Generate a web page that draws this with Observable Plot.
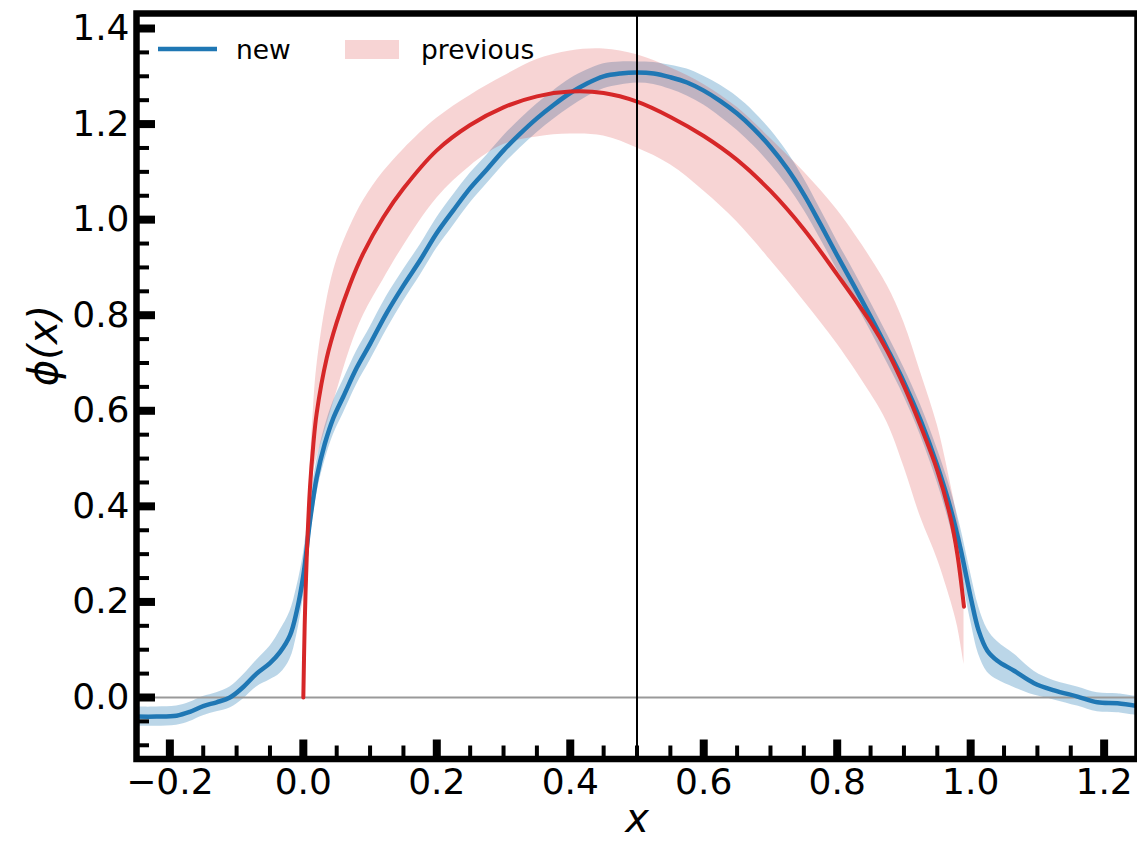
<!DOCTYPE html>
<html>
<head>
<meta charset="utf-8">
<script src="https://cdn.jsdelivr.net/npm/d3@7"></script>
<script src="https://cdn.jsdelivr.net/npm/@observablehq/plot@0.6"></script>
<style>
  html, body { margin: 0; padding: 0; background: #fff; }
  #wrap { position: relative; width: 1137px; height: 843px; overflow: hidden; font-family: "DejaVu Sans", sans-serif; }
  #wrap > svg.legend { position: absolute; left: 0; top: 0; }
</style>
</head>
<body>
<div id="wrap"></div>
<script>
// ---- data: "new" (blue) ----
const newX = [-0.25,-0.22,-0.19,-0.17,-0.15,-0.13,-0.11,-0.09,-0.07,-0.05,-0.035,-0.02,-0.01,0.0,0.01,0.02,0.032,0.045,0.06,0.08,0.10,0.125,0.15,0.175,0.20,0.225,0.25,0.275,0.30,0.325,0.35,0.375,0.40,0.425,0.45,0.475,0.50,0.525,0.55,0.575,0.60,0.625,0.65,0.675,0.70,0.725,0.75,0.775,0.80,0.825,0.85,0.875,0.90,0.925,0.95,0.97,0.985,1.0,1.012,1.025,1.04,1.065,1.095,1.125,1.16,1.19,1.22,1.25];
const newMean = [-0.040,-0.040,-0.038,-0.030,-0.018,-0.010,0.000,0.022,0.050,0.072,0.095,0.130,0.180,0.255,0.370,0.460,0.530,0.585,0.630,0.690,0.740,0.805,0.862,0.915,0.972,1.020,1.066,1.105,1.145,1.180,1.212,1.240,1.265,1.285,1.300,1.306,1.308,1.306,1.298,1.287,1.270,1.248,1.222,1.190,1.152,1.107,1.053,0.990,0.925,0.862,0.797,0.730,0.660,0.580,0.485,0.395,0.310,0.210,0.140,0.098,0.077,0.056,0.030,0.015,0.002,-0.010,-0.012,-0.018];
const newErr = [0.020,0.020,0.020,0.020,0.020,0.020,0.022,0.025,0.028,0.035,0.045,0.050,0.050,0.045,0.040,0.035,0.035,0.035,0.035,0.035,0.035,0.035,0.033,0.032,0.032,0.032,0.031,0.030,0.030,0.030,0.030,0.030,0.030,0.028,0.026,0.024,0.022,0.023,0.025,0.028,0.030,0.033,0.035,0.036,0.036,0.035,0.033,0.031,0.030,0.030,0.030,0.030,0.030,0.032,0.035,0.040,0.045,0.050,0.050,0.045,0.040,0.035,0.025,0.020,0.020,0.020,0.020,0.020];

// ---- data: "previous" (red) ----
const prevX    = [0.0,0.002,0.005,0.01,0.015,0.02,0.035,0.05,0.07,0.09,0.12,0.15,0.20,0.25,0.30,0.35,0.40,0.45,0.50,0.55,0.60,0.65,0.70,0.75,0.80,0.85,0.875,0.90,0.925,0.95,0.97,0.98,0.99];
const prevMean = [0.0,0.15,0.29,0.44,0.53,0.595,0.71,0.785,0.865,0.93,1.005,1.065,1.145,1.198,1.235,1.258,1.268,1.265,1.247,1.215,1.175,1.125,1.060,0.980,0.885,0.785,0.725,0.652,0.568,0.475,0.375,0.300,0.190];
const prevLo   = [0.0,0.14,0.28,0.42,0.47,0.50,0.57,0.64,0.73,0.80,0.875,0.945,1.045,1.112,1.157,1.173,1.179,1.175,1.150,1.115,1.060,0.995,0.915,0.830,0.740,0.636,0.575,0.483,0.377,0.290,0.203,0.150,0.070];
const prevHi   = [0.0,0.16,0.30,0.48,0.60,0.69,0.83,0.915,0.985,1.04,1.10,1.147,1.212,1.260,1.300,1.335,1.353,1.357,1.345,1.318,1.283,1.235,1.170,1.100,1.020,0.920,0.862,0.785,0.680,0.570,0.447,0.377,0.300];

// ---- ticks ----
const xMajor = [-0.2,0.0,0.2,0.4,0.6,0.8,1.0,1.2];
const xMinor = [-0.15,-0.1,-0.05,0.05,0.1,0.15,0.25,0.3,0.35,0.45,0.5,0.55,0.65,0.7,0.75,0.85,0.9,0.95,1.05,1.1,1.15];
const yMajor = [0.0,0.2,0.4,0.6,0.8,1.0,1.2,1.4];
const yMinor = [-0.1,-0.05,0.05,0.1,0.15,0.25,0.3,0.35,0.45,0.5,0.55,0.65,0.7,0.75,0.85,0.9,0.95,1.05,1.1,1.15,1.25,1.3,1.35];

const newData = newX.map((x, i) => ({x, y: newMean[i], lo: newMean[i] - newErr[i], hi: newMean[i] + newErr[i]}));
const prevData = prevX.map((x, i) => ({x, y: prevMean[i], lo: prevLo[i], hi: prevHi[i]}));

const BLUE = "#1f77b4", RED = "#d62728";
const fmt = d3.format(".1f");

const chart = Plot.plot({
  width: 1137,
  height: 843,
  marginLeft: 136,
  marginRight: 0,
  marginTop: 13,
  marginBottom: 84.5,
  style: {fontFamily: "DejaVu Sans", color: "black", background: "white"},
  x: {domain: [-0.25, 1.25]},
  y: {domain: [-0.1287, 1.4314]},
  marks: [
    Plot.areaY(newData, {x: "x", y1: "lo", y2: "hi", fill: BLUE, fillOpacity: 0.3, curve: "catmull-rom", clip: true}),
    Plot.areaY(prevData, {x: "x", y1: "lo", y2: "hi", fill: RED, fillOpacity: 0.2, curve: "catmull-rom", clip: true}),
    Plot.ruleY([0], {stroke: "#999", strokeWidth: 2, clip: true}),
    Plot.line(newData, {x: "x", y: "y", stroke: BLUE, strokeWidth: 4.5, curve: "catmull-rom", clip: true}),
    Plot.line(prevData, {x: "x", y: "y", stroke: RED, strokeWidth: 4, curve: "catmull-rom", clip: true}),
    Plot.ruleX([0.5], {stroke: "black", strokeWidth: 2, clip: true}),
    Plot.frame({stroke: "black", strokeWidth: 6.5}),
    // x ticks (inward)
    Plot.axisX(xMajor, {anchor: "bottom", tickSize: -19, strokeWidth: 8, tickFormat: () => "", label: null}),
    Plot.axisX(xMinor, {anchor: "bottom", tickSize: -13, strokeWidth: 4, tickFormat: () => "", label: null}),
    Plot.axisX(xMajor, {anchor: "bottom", tickSize: 0, tickPadding: 9.5, fontSize: 36, tickFormat: fmt, label: null}),
    // y ticks (inward)
    Plot.axisY(yMajor, {anchor: "left", tickSize: -19, strokeWidth: 8, tickFormat: () => "", label: null}),
    Plot.axisY(yMinor, {anchor: "left", tickSize: -13, strokeWidth: 4, tickFormat: () => "", label: null}),
    Plot.axisY(yMajor, {anchor: "left", tickSize: 0, tickPadding: 7, fontSize: 36, tickFormat: fmt, label: null}),
    // axis titles
    Plot.text(["x"], {text: d => d, frameAnchor: "bottom", dy: 73, fontSize: 40, fontStyle: "italic", fill: "black"}),
    Plot.text(["ϕ(x)"], {text: d => d, frameAnchor: "left", dx: -92, rotate: -90, fontSize: 40, fontStyle: "italic", fill: "black"})
  ]
});

const wrap = document.getElementById("wrap");
wrap.appendChild(chart);

// legend
const ns = "http://www.w3.org/2000/svg";
const leg = document.createElementNS(ns, "svg");
leg.setAttribute("class", "legend");
leg.setAttribute("width", "600");
leg.setAttribute("height", "90");
leg.innerHTML = `
  <line x1="158" x2="217" y1="49" y2="49" stroke="${BLUE}" stroke-width="4.5"/>
  <text x="236" y="59" font-family="DejaVu Sans" font-size="26.5" fill="black">new</text>
  <rect x="345" y="40" width="54" height="19" fill="${RED}" fill-opacity="0.2"/>
  <text x="421" y="59" font-family="DejaVu Sans" font-size="26.5" fill="black">previous</text>
`;
wrap.appendChild(leg);
</script>
</body>
</html>
